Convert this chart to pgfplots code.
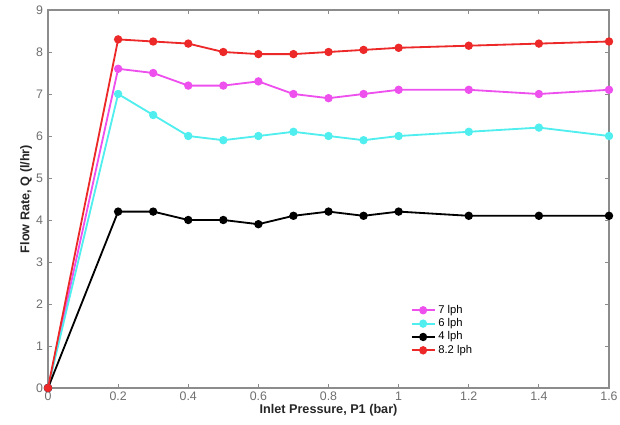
\documentclass[border=0pt]{standalone}
\usepackage{pgfplots}
\pgfplotsset{compat=1.18}
\usepackage{fontspec}
\setmainfont{Liberation Sans}
\definecolor{cmag}{RGB}{238,80,238}
\definecolor{ccyan}{RGB}{80,238,238}
\definecolor{cred}{RGB}{236,40,40}
\definecolor{axgray}{RGB}{140,140,140}
\definecolor{tickgray}{RGB}{110,110,110}
\begin{document}
\begin{tikzpicture}
\useasboundingbox (-1.2cm,-0.925cm) rectangle (14.3cm,9.7cm);
\begin{axis}[
  scale only axis,
  width=14.025cm, height=9.45cm,
  xmin=0, xmax=1.6, ymin=0, ymax=9,
  xtick={0,0.2,...,1.6},
  ytick={0,1,...,9},
  tick align=inside,
  major tick length=3pt,
  axis line style={axgray, line width=0.8pt},
  tick style={axgray, line width=0.6pt},
  ticklabel style={font=\fontsize{8.8}{10}\selectfont, text=tickgray},
  /pgf/number format/assume math mode=true,
  xticklabel style={yshift=1pt},
  xlabel={\textbf{Inlet Pressure, P1 (bar)}},
  ylabel={\textbf{Flow Rate, Q (l/hr)}},
  label style={font=\fontsize{9}{10}\selectfont, text=black!85},
  xlabel style={yshift=4pt},
  ylabel style={yshift=-4pt},
  legend style={draw=none, fill=none, at={(axis cs:1.03,2.08)}, anchor=north west,
    font=\fontsize{8}{9}\selectfont, row sep=-1.8pt, inner sep=1pt},
  legend cell align=left,
  legend image post style={xscale=0.95},
  every axis plot/.append style={line width=1.3pt, mark=*, mark size=2.3pt},
]
\addplot[color=cmag] coordinates {(0,0)(0.2,7.6)(0.3,7.5)(0.4,7.2)(0.5,7.2)(0.6,7.3)(0.7,7.0)(0.8,6.9)(0.9,7.0)(1.0,7.1)(1.2,7.1)(1.4,7.0)(1.6,7.1)};
\addlegendentry{7 lph}
\addplot[color=ccyan] coordinates {(0,0)(0.2,7.0)(0.3,6.5)(0.4,6.0)(0.5,5.9)(0.6,6.0)(0.7,6.1)(0.8,6.0)(0.9,5.9)(1.0,6.0)(1.2,6.1)(1.4,6.2)(1.6,6.0)};
\addlegendentry{6 lph}
\addplot[color=black] coordinates {(0,0)(0.2,4.2)(0.3,4.2)(0.4,4.0)(0.5,4.0)(0.6,3.9)(0.7,4.1)(0.8,4.2)(0.9,4.1)(1.0,4.2)(1.2,4.1)(1.4,4.1)(1.6,4.1)};
\addlegendentry{4 lph}
\addplot[color=cred] coordinates {(0,0)(0.2,8.3)(0.3,8.25)(0.4,8.2)(0.5,8.0)(0.6,7.95)(0.7,7.95)(0.8,8.0)(0.9,8.05)(1.0,8.1)(1.2,8.15)(1.4,8.2)(1.6,8.25)};
\addlegendentry{8.2 lph}
\end{axis}
\end{tikzpicture}
\end{document}
